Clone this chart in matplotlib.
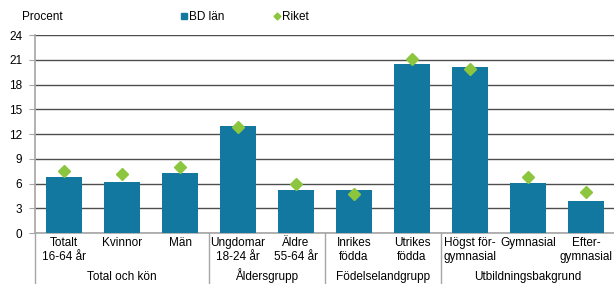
import matplotlib
matplotlib.use("Agg")
import matplotlib.pyplot as plt
import matplotlib.transforms as mtransforms
from matplotlib.lines import Line2D

plt.rcParams['font.family'] = ['Liberation Sans', 'DejaVu Sans']
plt.rcParams['font.size'] = 8.5

## Data
categories = ["Totalt\n16-64 år", "Kvinnor", "Män", "Ungdomar\n18-24 år", "Äldre\n55-64 år",
              "Inrikes\nfödda", "Utrikes\nfödda", "Högst för-\ngymnasial", "Gymnasial", "Efter-\ngymnasial"]
bd_lan = [6.8, 6.15, 7.3, 13.0, 5.2, 5.2, 20.5, 20.1, 6.1, 3.9]
riket = [7.55, 7.15, 8.0, 12.9, 6.0, 4.7, 21.1, 19.9, 6.8, 5.0]
groups = ["Total och kön", "Åldersgrupp", "Födelselandgrupp", "Utbildningsbakgrund"]
group_sizes = [3, 2, 2, 3]
yticks = [0, 3, 6, 9, 12, 15, 18, 21, 24]

bar_color = '#12789f'
dot_color = '#8cc63f'
grid_color = '#4d4d4d'
axis_color = '#a6a6a6'

fig = plt.figure(figsize=(6.14, 2.84), dpi=100)
ax = fig.add_axes([35/614, 51/284, 580/614, 198/284])

x = list(range(len(categories)))
ax.bar(x, bd_lan, width=0.62, color=bar_color, zorder=3)
ax.plot(x, riket, linestyle='none', marker='D', markersize=6, color=dot_color,
        markeredgecolor=dot_color, zorder=4)

ax.set_xlim(-0.5, len(categories) - 0.5)
ax.set_ylim(0, 24)
ax.set_yticks(yticks)
ax.yaxis.grid(True, color=grid_color, linewidth=1.0, zorder=0)
ax.set_axisbelow(True)
ax.tick_params(axis='y', length=4, color=axis_color, pad=5)
ax.set_xticks(x)
ax.set_xticklabels(categories, linespacing=1.2, va='top')
ax.tick_params(axis='x', length=0, pad=3)

for s in ['top', 'right']:
    ax.spines[s].set_visible(False)
ax.spines['left'].set_color(axis_color)
ax.spines['bottom'].set_color(axis_color)
ax.spines['left'].set_linewidth(1.2)
ax.spines['bottom'].set_linewidth(1.2)

# separateurs et noms des groupes sous l'axe
trans = mtransforms.blended_transform_factory(ax.transData, ax.transAxes)
start = -0.5
for g, n in zip(groups, group_sizes):
    ax.plot([start, start], [0, -0.27], transform=trans, color=axis_color,
            linewidth=1.0, clip_on=False)
    ax.text(start + n/2, -0.235, g, transform=trans, ha='center', va='baseline')
    start += n

# legende et unite
fig.text(22/614, 1 - 17/284, "Procent", va='center', ha='left')
handles = [Line2D([], [], linestyle='none', marker='s', markersize=4, color=bar_color),
           Line2D([], [], linestyle='none', marker='D', markersize=3.5, color=dot_color)]
fig.legend(handles, ["BD län", "Riket"], ncol=2, loc='center',
           bbox_to_anchor=(244/614, 1 - 17/284), frameon=False,
           handletextpad=0.05, columnspacing=4.0, handlelength=0.8)

plt.savefig("out.png", dpi=100)
